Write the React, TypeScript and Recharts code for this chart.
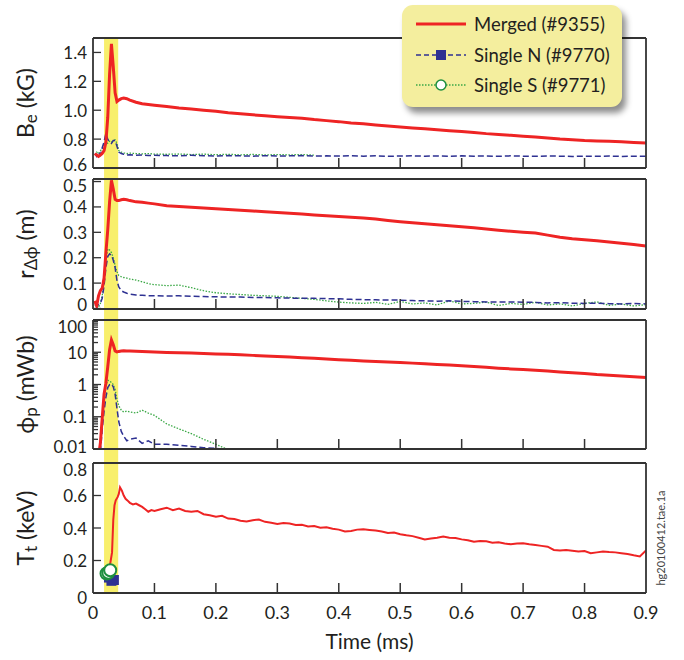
import React from "react";
import { ComposedChart, Line, XAxis, YAxis, ReferenceArea, Legend, Label } from "recharts";

// shared time base (ms) for the three upper panels
const TIME = [
  0.003, 0.006, 0.009, 0.012, 0.015, 0.018, 0.021, 0.024, 0.027, 0.03,
  0.033, 0.036, 0.039, 0.042, 0.046, 0.05, 0.055, 0.06, 0.07, 0.08,
  0.09, 0.1,
  0.12, 0.14, 0.16, 0.18, 0.2, 0.22, 0.24, 0.26, 0.28, 0.3,
  0.32, 0.34, 0.36, 0.38, 0.4, 0.42, 0.44, 0.46, 0.48, 0.5,
  0.52, 0.54, 0.56, 0.58, 0.6, 0.62, 0.64, 0.66, 0.68, 0.7,
  0.72, 0.74, 0.76, 0.78, 0.8, 0.82, 0.84, 0.86, 0.88, 0.9,
];

// B_e (kG)
const BE_MERGED = [
  0.70, 0.69, 0.68, 0.69, 0.70, 0.72, 0.78, 0.95, 1.25, 1.46,
  1.30, 1.12, 1.06, 1.07, 1.08, 1.085, 1.08, 1.07, 1.055, 1.045,
  1.04, 1.035,
  1.025, 1.015, 1.008, 1.0, 0.993, 0.983, 0.975, 0.968, 0.961, 0.955,
  0.95, 0.944, 0.935, 0.928, 0.921, 0.912, 0.906, 0.898, 0.891, 0.884,
  0.877, 0.871, 0.864, 0.858, 0.852, 0.846, 0.838, 0.832, 0.826, 0.82,
  0.815, 0.808, 0.801, 0.796, 0.79, 0.787, 0.785, 0.781, 0.777, 0.773,
];
const BE_SINGLE_N = [
  0.70, 0.68, 0.71, 0.69, 0.74, 0.78, 0.84, 0.80, 0.78, 0.77,
  0.79, 0.79, 0.75, 0.71, 0.70, 0.695, 0.69, 0.692, 0.688, 0.69,
  0.686, 0.688,
  0.686, 0.684, 0.688, 0.685, 0.683, 0.686, 0.684, 0.682, 0.685, 0.683,
  0.684, 0.686, 0.682, 0.684, 0.683, 0.685, 0.682, 0.684, 0.681, 0.683,
  0.684, 0.682, 0.683, 0.681, 0.684, 0.682, 0.683, 0.681, 0.684, 0.682,
  0.681, 0.683, 0.682, 0.68, 0.682, 0.681, 0.683, 0.68, 0.682, 0.681,
];
const BE_SINGLE_S = [
  0.69, 0.71, 0.70, 0.72, 0.73, 0.76, 0.78, 0.77, 0.785, 0.78,
  0.79, 0.795, 0.77, 0.72, 0.71, 0.705, 0.70, 0.703, 0.70, 0.698,
  0.70, 0.696,
  0.695, 0.697, 0.693, 0.696, 0.692, 0.695, 0.691, 0.694, 0.69, 0.693,
  0.691, 0.693, 0.689, null, null, null, null, null, null, null,
  null, null, null, null, null, null, null, null, null, null,
  null, null, null, null, null, null, null, null, null, null,
];

// r_Δϕ (m)
const R_MERGED = [
  0.03, 0.01, 0.05, 0.07, 0.08, 0.12, 0.22, 0.31, 0.42, 0.505,
  0.47, 0.43, 0.425, 0.425, 0.428, 0.43, 0.428, 0.425, 0.42, 0.418,
  0.415, 0.412,
  0.405, 0.402, 0.399, 0.396, 0.393, 0.39, 0.387, 0.384, 0.381, 0.378,
  0.375, 0.372, 0.368, 0.365, 0.362, 0.359, 0.356, 0.352, 0.347, 0.342,
  0.338, 0.334, 0.33, 0.326, 0.322, 0.318, 0.313, 0.308, 0.304, 0.3,
  0.297, 0.289, 0.281, 0.275, 0.271, 0.267, 0.262, 0.257, 0.252, 0.246,
];
const R_SINGLE_N = [
  0.02, 0.01, 0.015, 0.02, 0.04, 0.09, 0.16, 0.205, 0.215, 0.21,
  0.19, 0.16, 0.11, 0.085, 0.07, 0.065, 0.06, 0.057, 0.053, 0.052,
  0.05, 0.05,
  0.049, 0.05, 0.048, 0.047, 0.046, 0.045, 0.045, 0.043, 0.043, 0.042,
  0.041, 0.04, 0.04, 0.039, 0.038, 0.036, 0.035, 0.034, 0.033, 0.033,
  0.031, 0.03, 0.029, 0.03, 0.028, 0.027, 0.026, 0.025, 0.026, 0.025,
  0.024, 0.022, 0.023, 0.021, 0.02, 0.021, 0.019, 0.018, 0.02, 0.018,
];
const R_SINGLE_S = [
  0.01, 0.015, 0.005, 0.02, 0.05, 0.11, 0.19, 0.235, 0.23, 0.22,
  0.2, 0.17, 0.145, 0.13, 0.125, 0.122, 0.12, 0.116, 0.112, 0.105,
  0.098, 0.094,
  0.09, 0.092, 0.082, 0.07, 0.062, 0.058, 0.055, 0.052, 0.05, 0.048,
  0.044, 0.04, 0.036, 0.03, 0.025, 0.022, 0.02, 0.024, 0.016, 0.028,
  0.018, 0.022, 0.014, 0.03, 0.018, 0.02, 0.025, 0.012, 0.02, 0.016,
  0.024, 0.014, 0.018, 0.01, 0.02, 0.026, 0.012, 0.018, 0.01, 0.015,
];

// ϕ_p (mWb), log axis
const PHI_MERGED = [
  null, null, 0.006, 0.015, 0.09, 0.5, 1.1, 3.5, 12, 24,
  17, 11, 10.2, 10.6, 10.9, 11.1, 11.0, 10.9, 10.7, 10.5,
  10.3, 10.2,
  9.9, 9.7, 9.4, 9.1, 8.8, 8.6, 8.3, 8.0, 7.7, 7.4,
  7.1, 6.8, 6.5, 6.2, 5.9, 5.6, 5.4, 5.2, 5.0, 4.8,
  4.6, 4.4, 4.2, 4.0, 3.8, 3.6, 3.4, 3.2, 3.05, 2.9,
  2.75, 2.6, 2.45, 2.3, 2.2, 2.05, 1.95, 1.85, 1.75, 1.65,
];
const PHI_SINGLE_N = [
  null, null, null, 0.008, 0.04, 0.15, 0.4, 0.8, 1.0, 1.05,
  0.85, 0.5, 0.18, 0.07, 0.035, 0.025, 0.018, 0.02, 0.022, 0.015,
  0.018, 0.014,
  0.014, 0.013, 0.012, 0.011, 0.0105, 0.009, null, null, null, null,
  null, null, null, null, null, null, null, null, null, null,
  null, null, null, null, null, null, null, null, null, null,
  null, null, null, null, null, null, null, null, null, null,
];
const PHI_SINGLE_S = [
  null, null, null, 0.01, 0.06, 0.3, 0.9, 1.35, 1.3, 1.15,
  1.0, 0.7, 0.35, 0.22, 0.16, 0.14, 0.15, 0.14, 0.13, 0.16,
  0.13, 0.11,
  0.06, 0.042, 0.03, 0.02, 0.014, 0.0095, 0.007, null, null, null,
  null, null, null, null, null, null, null, null, null, null,
  null, null, null, null, null, null, null, null, null, null,
  null, null, null, null, null, null, null, null, null, null,
];

// T_t (keV), merged shot has its own finer time base
const TT_TIME = [
  0.025, 0.028, 0.031, 0.033, 0.035, 0.037, 0.04, 0.042, 0.044, 0.047,
  0.05, 0.053, 0.056, 0.06, 0.065, 0.07, 0.075, 0.08, 0.085, 0.09,
  0.095, 0.1,
  0.11, 0.12, 0.13, 0.14, 0.15, 0.16, 0.17, 0.18, 0.19, 0.2,
  0.21, 0.22, 0.23, 0.24, 0.25, 0.26, 0.27, 0.28, 0.29, 0.3,
  0.31, 0.32, 0.33, 0.34, 0.35, 0.36, 0.37, 0.38, 0.39, 0.4,
  0.41, 0.42, 0.43, 0.44, 0.45, 0.46, 0.47, 0.48, 0.49, 0.5,
  0.51, 0.52, 0.53, 0.54, 0.55, 0.56, 0.57, 0.58, 0.59, 0.6,
  0.61, 0.62, 0.63, 0.64, 0.65, 0.66, 0.67, 0.68, 0.69, 0.7,
  0.71, 0.72, 0.73, 0.74, 0.75, 0.76, 0.77, 0.78, 0.79, 0.8,
  0.81, 0.82, 0.83, 0.84, 0.85, 0.86, 0.87, 0.88, 0.89, 0.9,
];
const TT_MERGED = [
  0.165, 0.18, 0.25, 0.45, 0.54, 0.57, 0.59, 0.61, 0.65, 0.63,
  0.6, 0.58, 0.57, 0.555, 0.545, 0.55, 0.54, 0.53, 0.515, 0.5,
  0.51, 0.505,
  0.515, 0.525, 0.51, 0.52, 0.505, 0.5, 0.505, 0.485, 0.478, 0.47,
  0.475, 0.458, 0.455, 0.445, 0.44, 0.448, 0.452, 0.438, 0.432, 0.425,
  0.43, 0.428, 0.418, 0.42, 0.41, 0.412, 0.402, 0.405, 0.395, 0.39,
  0.378, 0.382, 0.39, 0.392, 0.388, 0.384, 0.378, 0.37, 0.372, 0.362,
  0.355, 0.35, 0.34, 0.33, 0.335, 0.34, 0.348, 0.34, 0.338, 0.33,
  0.325, 0.315, 0.32, 0.318, 0.31, 0.312, 0.305, 0.3, 0.304, 0.306,
  0.3, 0.295, 0.29, 0.285, 0.265, 0.262, 0.265, 0.26, 0.255, 0.258,
  0.245, 0.25, 0.255, 0.252, 0.25, 0.245, 0.24, 0.232, 0.225, 0.262,
];
const TT_N_TIME = [0.026, 0.03, 0.034];
const TT_SINGLE_N = [0.095, 0.075, 0.08];
const TT_S_TIME = [0.022, 0.025, 0.028];
const TT_SINGLE_S = [0.12, 0.125, 0.14];

const BAND = [0.018, 0.041];

const X_TICKS = [0, 0.1, 0.2, 0.3, 0.4, 0.5, 0.6, 0.7, 0.8, 0.9];
const BE_TICKS = [0.6, 0.8, 1.0, 1.2, 1.4];
const R_TICKS = [0, 0.1, 0.2, 0.3, 0.4, 0.5];
const PHI_LABELS = [0.01, 0.1, 1, 10, 100];
const PHI_TICKS = [
  0.01, 0.02, 0.03, 0.04, 0.05, 0.06, 0.07, 0.08, 0.09,
  0.1, 0.2, 0.3, 0.4, 0.5, 0.6, 0.7, 0.8, 0.9,
  1, 2, 3, 4, 5, 6, 7, 8, 9,
  10, 20, 30, 40, 50, 60, 70, 80, 90, 100,
];
const TT_TICKS = [0, 0.2, 0.4, 0.6, 0.8];

const W = 684;
const H = 660;
const PLOT_LEFT = 93;
const PLOT_RIGHT = 646;
const FONT = "Lato, 'Open Sans', 'DejaVu Sans', sans-serif";
const INK = "#231f20";
const FRAME = "#333333";
const RED = "#ee2424";
const BLUE = "#2e3192";
const GREEN = "#3aa845";
const GREEN_DARK = "#1f8f3f";
const BAND_FILL = "#f8ef6c";
const LEGEND_BG = "#f4ee9e";

const frameLine = { stroke: FRAME, strokeWidth: 1.8 };

const rowsOf = (merged: any[], n: any[], s: any[]) =>
  TIME.map((t, i) => ({ t, merged: merged[i], n: n[i], s: s[i] }));
const pairs = (ts: number[], vs: number[]) => ts.map((t, i) => ({ t, v: vs[i] }));

function XTick(props: any) {
  const { x, y, payload, showLabel } = props;
  const v = payload.value;
  const inner = v > 0.001 && v < 0.899;
  return (
    <g>
      {inner && <line x1={x} y1={y} x2={x} y2={y - 10} stroke={FRAME} strokeWidth={1.5} />}
      {showLabel && (
        <text x={x} y={y + 19} textAnchor="middle" dominantBaseline="central" fontSize={18} fontFamily={FONT} fill={INK}>
          {String(v)}
        </text>
      )}
    </g>
  );
}

function YTick(props: any) {
  const { x, y, payload, fmt, nudge, labelled } = props;
  const v = payload.value;
  const major = !labelled || labelled.includes(v);
  const dy = (nudge && nudge[String(v)]) || 0;
  return (
    <g>
      <line x1={x} y1={y} x2={x + (major ? 8 : 5)} y2={y} stroke={FRAME} strokeWidth={1.3} />
      {major && (
        <text x={x - 6} y={y + dy} textAnchor="end" dominantBaseline="central" fontSize={17} fontFamily={FONT} fill={INK}>
          {fmt(v)}
        </text>
      )}
    </g>
  );
}

function AxisTitle(props: any) {
  const { viewBox, main, sub, unit } = props;
  const cx = viewBox.x + viewBox.width - 68;
  const cy = viewBox.y + viewBox.height / 2;
  return (
    <text x={cx} y={cy} transform={`rotate(-90 ${cx} ${cy})`} textAnchor="middle" dominantBaseline="central" fontSize={23} fontFamily={FONT} fill={INK}>
      {main}
      <tspan fontSize={17} dy={5}>{sub}</tspan>
      <tspan dy={-5}>{unit}</tspan>
    </text>
  );
}

function XTitle(props: any) {
  const { viewBox } = props;
  return (
    <text x={viewBox.x + viewBox.width / 2} y={viewBox.y + 47} textAnchor="middle" dominantBaseline="central" fontSize={21} fontFamily={FONT} fill={INK}>
      Time (ms)
    </text>
  );
}

function Stamp(props: any) {
  const { viewBox } = props;
  const cx = viewBox.x + 14;
  const cy = viewBox.y + viewBox.height - 55;
  return (
    <text x={cx} y={cy} transform={`rotate(-90 ${cx} ${cy})`} textAnchor="middle" dominantBaseline="central" fontSize={11} fontFamily={FONT} fill="#444">
      hg20100412.tae.1a
    </text>
  );
}

const LEGEND_ITEMS = [
  { name: "Merged (#9355)", color: RED, width: 3, dash: undefined, marker: "none" },
  { name: "Single N (#9770)", color: BLUE, width: 1.5, dash: "5 3", marker: "square" },
  { name: "Single S (#9771)", color: GREEN, width: 1.3, dash: "1.5 1.5", marker: "circle" },
];

function LegendBox() {
  return (
    <div
      style={{
        width: 220,
        height: 102,
        boxSizing: "border-box",
        paddingTop: 4,
        background: LEGEND_BG,
        borderRadius: 11,
        boxShadow: "4px 6px 6px rgba(0,0,0,0.45)",
        fontFamily: FONT,
      }}
    >
      {LEGEND_ITEMS.map((item) => (
        <div key={item.name} style={{ display: "flex", alignItems: "center", height: 30.5 }}>
          <svg width={52} height={14} style={{ marginLeft: 14, marginRight: 6 }}>
            <line x1={0} y1={7} x2={50} y2={7} stroke={item.color} strokeWidth={item.width} strokeDasharray={item.dash} />
            {item.marker === "square" && <rect x={20} y={2} width={10} height={10} fill={BLUE} />}
            {item.marker === "circle" && <circle cx={25} cy={7} r={5} fill="#fff" stroke={GREEN_DARK} strokeWidth={1.5} />}
          </svg>
          <span style={{ fontSize: 18.5, color: INK, whiteSpace: "nowrap" }}>{item.name}</span>
        </div>
      ))}
    </div>
  );
}

function seriesLines() {
  return [
    <Line key="s" dataKey="s" stroke={GREEN} strokeWidth={1.3} strokeDasharray="1.5 1.5" dot={false} isAnimationActive={false} />,
    <Line key="n" dataKey="n" stroke={BLUE} strokeWidth={1.5} strokeDasharray="6 3" dot={false} isAnimationActive={false} />,
    <Line key="m" dataKey="merged" stroke={RED} strokeWidth={3} dot={false} isAnimationActive={false} />,
  ];
}

// axes are 1px thick (recharts skips 0-sized axes), margins compensate
function Panel(props: any) {
  const { top, bottom, domain, ticks, labelled, log, fmt, nudge, title, data, last, stamp, band, children } = props;
  return (
    <div style={{ position: "absolute", left: 0, top: 0 }}>
      <ComposedChart
        width={W}
        height={H}
        data={data}
        margin={{ top: top - 1, bottom: H - bottom - 1, left: PLOT_LEFT - 1, right: W - PLOT_RIGHT - 1 }}
      >
        <ReferenceArea x1={BAND[0]} x2={BAND[1]} y1={band[0]} y2={band[1]} ifOverflow="visible" fill={BAND_FILL} fillOpacity={1} stroke="none" />
        <XAxis
          type="number"
          dataKey="t"
          domain={[0, 0.9]}
          ticks={X_TICKS}
          interval={0}
          height={1}
          tickSize={0}
          tickMargin={0}
          tickLine={false}
          axisLine={frameLine}
          allowDataOverflow
          tick={(p: any) => <XTick {...p} showLabel={last} />}
        >
          {last && <Label content={<XTitle />} />}
        </XAxis>
        <XAxis xAxisId="top" orientation="top" type="number" dataKey="t" domain={[0, 0.9]} height={1} tick={false} tickLine={false} axisLine={frameLine} />
        <YAxis
          type="number"
          scale={log ? "log" : "auto"}
          domain={domain}
          ticks={ticks}
          interval={0}
          width={1}
          tickSize={0}
          tickMargin={0}
          tickLine={false}
          axisLine={frameLine}
          allowDataOverflow
          tick={(p: any) => <YTick {...p} fmt={fmt} nudge={nudge} labelled={labelled} />}
        >
          <Label content={<AxisTitle main={title[0]} sub={title[1]} unit={title[2]} />} />
        </YAxis>
        <YAxis yAxisId="right" orientation="right" type="number" scale={log ? "log" : "auto"} domain={domain} width={1} tick={false} tickLine={false} axisLine={frameLine}>
          {stamp && <Label content={<Stamp />} />}
        </YAxis>
        {children}
      </ComposedChart>
    </div>
  );
}

const beRows = rowsOf(BE_MERGED, BE_SINGLE_N, BE_SINGLE_S);
const rRows = rowsOf(R_MERGED, R_SINGLE_N, R_SINGLE_S);
const phiRows = rowsOf(PHI_MERGED, PHI_SINGLE_N, PHI_SINGLE_S);
const ttRows = pairs(TT_TIME, TT_MERGED);
const ttNRows = pairs(TT_N_TIME, TT_SINGLE_N);
const ttSRows = pairs(TT_S_TIME, TT_SINGLE_S);

const squareDot = (p: any) => (
  <rect key={`sq-${p.index}`} x={p.cx - 5} y={p.cy - 5} width={10} height={10} fill={BLUE} />
);
const circleDot = (p: any) => (
  <circle key={`ci-${p.index}`} cx={p.cx} cy={p.cy} r={6} fill="#fff" stroke={GREEN_DARK} strokeWidth={2} />
);

export default function App() {
  return (
    <div style={{ position: "absolute", left: 0, top: 0, width: W, height: H, background: "#fff", fontFamily: FONT }}>
      <Panel
        top={38}
        bottom={168}
        domain={[0.6, 1.5]}
        band={[0.524, 1.5]}
        ticks={BE_TICKS}
        fmt={(v: number) => v.toFixed(1)}
        nudge={{ "0.6": -4 }}
        title={["B", "e", " (kG)"]}
        data={beRows}
      >
        {seriesLines()}
        <Legend
          content={<LegendBox />}
          verticalAlign="middle"
          align="center"
          wrapperStyle={{ left: 402, top: 5, width: 220, height: 102 }}
        />
      </Panel>

      <Panel
        top={179}
        bottom={309}
        domain={[-0.002, 0.51]}
        band={[-0.046, 0.51]}
        ticks={R_TICKS}
        fmt={(v: number) => String(v)}
        nudge={{ "0.5": 4, "0": -4 }}
        title={["r", "Δϕ", " (m)"]}
        data={rRows}
      >
        {seriesLines()}
      </Panel>

      <Panel
        top={320}
        bottom={449}
        domain={[0.01, 100]}
        band={[0.0037, 100]}
        ticks={PHI_TICKS}
        labelled={PHI_LABELS}
        log
        fmt={(v: number) => String(v)}
        nudge={{ "100": 6.5, "0.01": -3 }}
        title={["ϕ", "p", " (mWb)"]}
        data={phiRows}
      >
        {seriesLines()}
      </Panel>

      <Panel
        top={463}
        bottom={593}
        domain={[0, 0.8]}
        band={[0, 0.8]}
        ticks={TT_TICKS}
        fmt={(v: number) => String(v)}
        nudge={{ "0.8": 6, "0": 4 }}
        title={["T", "t", " (keV)"]}
        last
        stamp
      >
        <Line data={ttRows} dataKey="v" stroke={RED} strokeWidth={2} dot={false} isAnimationActive={false} />
        <Line data={ttNRows} dataKey="v" stroke="none" dot={squareDot} isAnimationActive={false} />
        <Line data={ttSRows} dataKey="v" stroke="none" dot={circleDot} isAnimationActive={false} />
      </Panel>
    </div>
  );
}
